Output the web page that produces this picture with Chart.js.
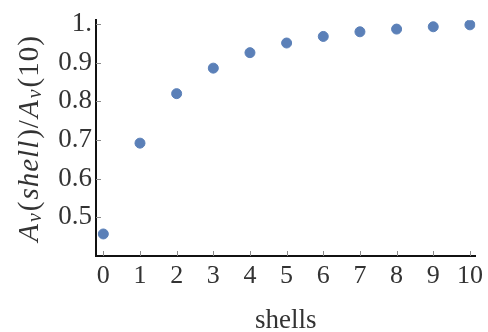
<!DOCTYPE html>
<html>
<head>
<meta charset="utf-8">
<script src="https://cdn.jsdelivr.net/npm/chart.js@4"></script>
<style>
  html, body { margin: 0; padding: 0; background: #fff; }
  #wrap { width: 488px; height: 332px; }
</style>
</head>
<body>
<div id="wrap"><canvas id="shellChart"></canvas></div>
<script>
// data
let shells = [0, 1, 2, 3, 4, 5, 6, 7, 8, 9, 10];
let ratio = [0.457, 0.692, 0.82, 0.886, 0.926, 0.951, 0.968, 0.98, 0.987, 0.993, 0.998];
let yTickValues = [0.5, 0.6, 0.7, 0.8, 0.9, 1.0];
let xTickValues = [0, 1, 2, 3, 4, 5, 6, 7, 8, 9, 10];

const serif = '"Liberation Serif", "DejaVu Serif", serif';
const textColor = '#333333';

//draws the small inward ticks and both axis titles
const axisDecor = {
    id: 'axisDecor',
    afterDatasetsDraw(chart) {
        const c = chart.ctx;
        const x = chart.scales.x;
        const y = chart.scales.y;
        const area = chart.chartArea;

        c.save();
        c.strokeStyle = '#8a8a8a';
        c.lineWidth = 1;
        xTickValues.forEach(v => {
            const px = Math.round(x.getPixelForValue(v)) + 0.5;
            c.beginPath();
            c.moveTo(px, area.bottom);
            c.lineTo(px, area.bottom - 5);
            c.stroke();
        });
        yTickValues.forEach(v => {
            const py = Math.round(y.getPixelForValue(v)) + 0.5;
            c.beginPath();
            c.moveTo(area.left, py);
            c.lineTo(area.left + 5, py);
            c.stroke();
        });

        // x title
        c.fillStyle = textColor;
        c.font = '27px ' + serif;
        c.textAlign = 'center';
        c.textBaseline = 'middle';
        c.fillText('shells', (area.left + area.right) / 2, 321);

        // y title, A_v(shell)/A_v(10)
        const parts = [
            { t: 'A', f: 'italic 29px ' + serif, dy: 0 },
            { t: 'v', f: 'italic 20px ' + serif, dy: 6 },
            { t: '(', f: '29px ' + serif, dy: 0 },
            { t: 'shell', f: 'italic 29px ' + serif, dy: 0 },
            { t: ')/', f: '29px ' + serif, dy: 0 },
            { t: 'A', f: 'italic 29px ' + serif, dy: 0 },
            { t: 'v', f: 'italic 20px ' + serif, dy: 6 },
            { t: '(10)', f: '29px ' + serif, dy: 0 },
        ];
        c.letterSpacing = '1px';
        let total = 0;
        parts.forEach(p => { c.font = p.f; p.w = c.measureText(p.t).width + 1; total += p.w; });
        c.translate(30, 138);
        c.rotate(-Math.PI / 2);
        c.textAlign = 'left';
        c.textBaseline = 'middle';
        let pos = -total / 2;
        parts.forEach(p => {
            c.font = p.f;
            c.fillText(p.t, pos, p.dy);
            pos += p.w;
        });
        c.restore();
    }
};

const config = {
    type: 'scatter',
    data: {
        datasets: [{
            data: shells.map((s, i) => ({ x: s, y: ratio[i] })),
            backgroundColor: '#5b80b8',
            borderColor: '#5b80b8',
            pointRadius: 5,
            pointHoverRadius: 5,
        }]
    },
    options: {
        animation: false,
        responsive: true,
        maintainAspectRatio: false,
        layout: { padding: { top: 16, right: 6, left: 0, bottom: 0 } },
        plugins: {
            legend: { display: false },
            tooltip: { enabled: false },
        },
        scales: {
            x: {
                type: 'linear',
                min: -0.2,
                max: 10.15,
                afterBuildTicks: s => { s.ticks = xTickValues.map(v => ({ value: v })); },
                afterFit: s => { s.height = 76; },
                grid: { display: false, drawTicks: false },
                border: { display: true, color: '#111', width: 2 },
                ticks: {
                    color: textColor,
                    padding: 5,
                    maxRotation: 0,
                    autoSkip: false,
                    font: { family: serif, size: 26 },
                },
            },
            y: {
                type: 'linear',
                min: 0.4,
                max: 1.01,
                afterBuildTicks: s => { s.ticks = yTickValues.map(v => ({ value: v })); },
                afterFit: s => { s.width = 96; },
                grid: { display: false, drawTicks: false },
                border: { display: true, color: '#111', width: 2 },
                ticks: {
                    color: textColor,
                    padding: 4,
                    autoSkip: false,
                    font: { family: serif, size: 27 },
                    callback: v => (v === 1 ? '1.' : v.toFixed(1)),
                },
            },
        },
    },
    plugins: [axisDecor],
};

let ShellChart = new Chart(document.getElementById('shellChart'), config);
</script>
</body>
</html>
